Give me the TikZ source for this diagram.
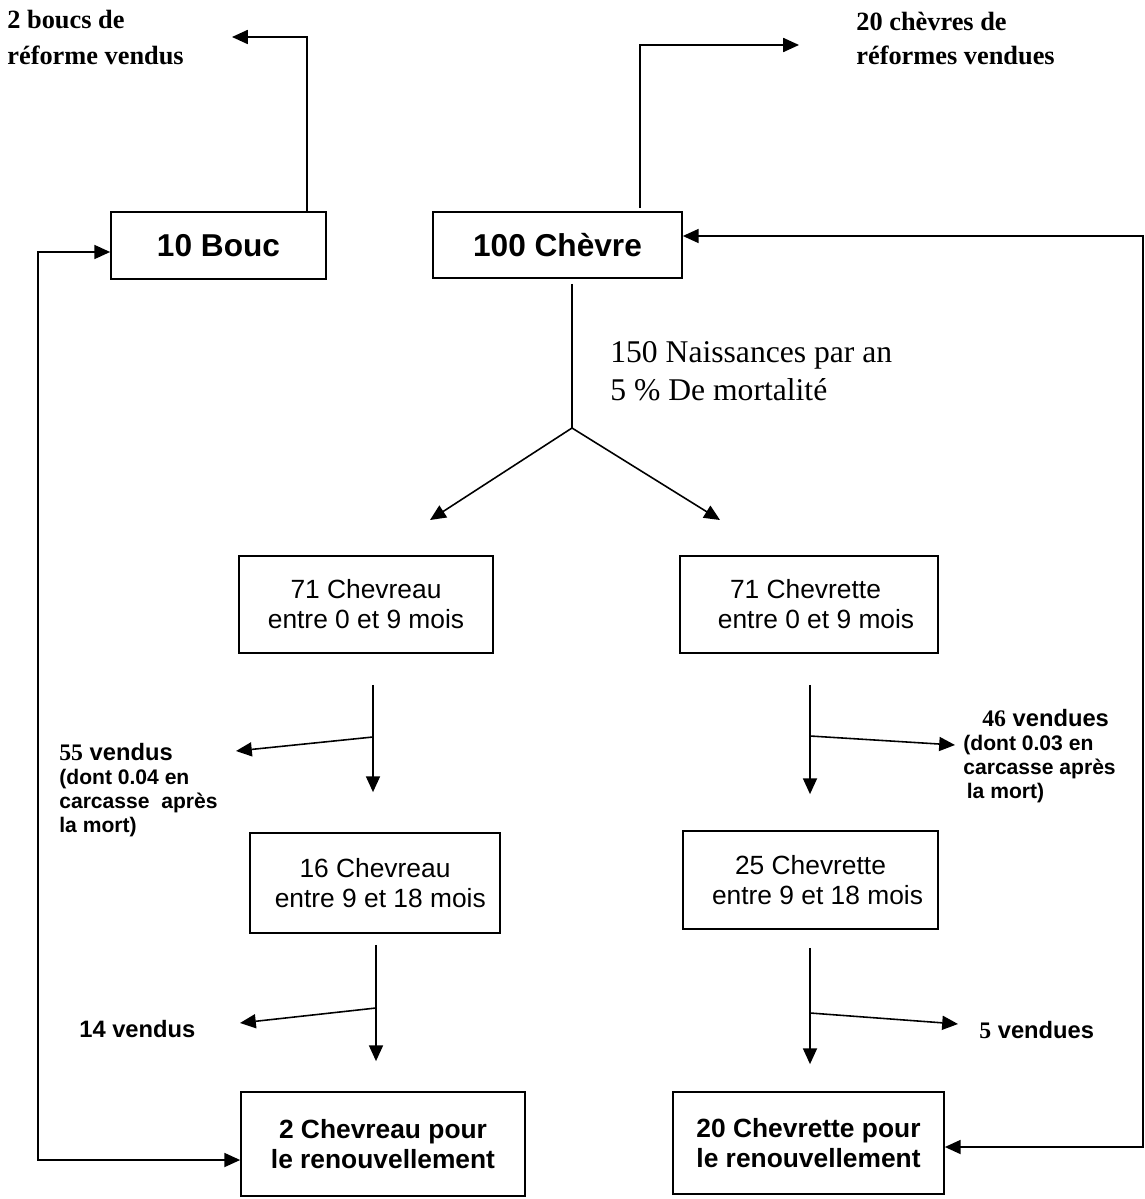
\documentclass[tikz,border=0pt]{standalone}
\usepackage{fontspec}
\setmainfont{Liberation Serif}
\setsansfont{Liberation Sans}
\usetikzlibrary{calc,arrows.meta}

\begin{document}
\begin{tikzpicture}[
    x=0.02cm, y=-0.02cm,
    box/.style={rectangle, draw=black, line width=1pt, inner sep=0pt, align=center, font=\sffamily\fontsize{15}{17}\selectfont},
    herdbox/.style={box, font=\sffamily\bfseries\fontsize{18}{21}\selectfont},
    renewbox/.style={box, font=\sffamily\bfseries\fontsize{15}{17}\selectfont},
    arrow/.style={-{Triangle[length=9pt, width=8pt]}, line width=0.9pt},
    returnarrow/.style={{Triangle[length=9pt, width=8pt]}-{Triangle[length=9pt, width=8pt]}, line width=0.9pt},
    plainline/.style={line width=0.9pt},
    reform/.style={font=\rmfamily\bfseries\fontsize{15}{21}\selectfont, align=left, anchor=base west, inner sep=0pt},
    sale/.style={font=\sffamily\bfseries\fontsize{12}{13.5}\selectfont, align=left, anchor=base west, inner sep=0pt},
    salebig/.style={sale, font=\sffamily\bfseries\fontsize{13.5}{15}\selectfont},
    births/.style={font=\rmfamily\fontsize{18}{21.6}\selectfont, align=left, anchor=base west, inner sep=0pt},
]
\useasboundingbox (0,0) rectangle (1144,1199);

% Herd
\node[herdbox, minimum width=4.3cm, minimum height=1.34cm] (bouc) at (218.5,245.5) {10 Bouc};
\node[herdbox, minimum width=4.98cm, minimum height=1.32cm] (chevre) at (557.5,245) {100 Chèvre};

% Reform sales (base = last line)
\node[reform] (boucsold) at (7,65) {2 boucs de\\réforme vendus};
\node[reform, font=\rmfamily\bfseries\fontsize{15}{19.4}\selectfont] (chevresold) at (856,65) {20 chèvres de\\réformes vendues};
\coordinate (boucup) at (307,37);
\coordinate (boucend) at (232,37);
\draw[arrow] (bouc.north -| boucup) -- (boucup) -- (boucend);
\coordinate (chevreup) at (640,45);
\coordinate (chevreend) at (799,45);
\draw[arrow] ($(chevre.north -| chevreup)+(0,-3)$) -- (chevreup) -- (chevreend);

% Births
\coordinate (split) at (572,428);
\coordinate (maletip) at (430,520);
\coordinate (femaletip) at (720,520);
\node[births] (birthtext) at (610,400) {150 Naissances par an\\5 \% De mortalité};
\draw[plainline] ($(chevre.south -| split)+(0,5)$) -- (split);
\draw[arrow] (split) -- (maletip);
\draw[arrow] (split) -- (femaletip);

% 0 to 9 months
\node[box, minimum width=5.08cm, minimum height=1.94cm] (chevreauA) at (366,604.5) {71 Chevreau\\entre 0 et 9 mois};
\node[box, minimum width=5.16cm, minimum height=1.94cm] (chevretteA) at (809,604.5) {71 Chevrette\hspace*{4pt}\\\hspace*{8pt}entre 0 et 9 mois};

% 9 to 18 months
\node[box, minimum width=5cm, minimum height=2cm] (chevreauB) at (375,883) {16 Chevreau\\\hspace*{6pt}entre 9 et 18 mois};
\node[box, minimum width=5.1cm, minimum height=1.96cm] (chevretteB) at (810.5,880) {25 Chevrette\\\hspace*{8pt}entre 9 et 18 mois};

% Renewal
\node[renewbox, minimum width=5.68cm, minimum height=2.08cm] (renewA) at (383,1144) {2 Chevreau pour\\le renouvellement};
\node[renewbox, minimum width=5.42cm, minimum height=2.04cm] (renewB) at (808.5,1143) {20 Chevrette pour\\le renouvellement};

% Sales (base = last line)
\node[sale] (maleSaleA) at (59,832) {{\fontsize{13.5}{15}\selectfont{\rmfamily 55} vendus}\\(dont 0.04 en\\carcasse\ \ après\\la mort)};
\node[sale] (femaleSaleA) at (963,798) {\hspace*{10.8pt}{\fontsize{13.5}{15}\selectfont{\rmfamily 46} vendues}\\(dont 0.03 en\\carcasse après\\\hspace*{2pt}la mort)};
\node[salebig] (maleSaleB) at (79,1037) {14 vendus};
\node[salebig] (femaleSaleB) at (979,1038) {{\rmfamily 5} vendues};

% Male line
\coordinate (maleSplitA) at (373,737);
\coordinate (maleSaleTipA) at (236,751);
\draw[arrow] ($(chevreauA.south -| maleSplitA)+(0,31)$) -- ($(chevreauB.north -| maleSplitA)+(0,-40)$);
\draw[arrow] (maleSplitA) -- (maleSaleTipA);
\coordinate (maleSplitB) at (376,1008);
\coordinate (maleSaleTipB) at (240,1023);
\draw[arrow] ($(chevreauB.south -| maleSplitB)+(0,11)$) -- ($(renewA.north -| maleSplitB)+(0,-30)$);
\draw[arrow] (maleSplitB) -- (maleSaleTipB);

% Female line
\coordinate (femaleSplitA) at (810,736);
\coordinate (femaleSaleTipA) at (955,745);
\draw[arrow] ($(chevretteA.south -| femaleSplitA)+(0,31)$) -- ($(chevretteB.north -| femaleSplitA)+(0,-36)$);
\draw[arrow] (femaleSplitA) -- (femaleSaleTipA);
\coordinate (femaleSplitB) at (810,1013);
\coordinate (femaleSaleTipB) at (958,1024);
\draw[arrow] ($(chevretteB.south -| femaleSplitB)+(0,18)$) -- ($(renewB.north -| femaleSplitB)+(0,-27)$);
\draw[arrow] (femaleSplitB) -- (femaleSaleTipB);

% Renewal loops
\coordinate (lefttop) at (38,252);
\coordinate (leftbottom) at (38,1160);
\draw[returnarrow] (bouc.west |- lefttop) -- (lefttop) -- (leftbottom) -- (renewA.west |- leftbottom);
\coordinate (righttop) at (1143,236);
\coordinate (rightbottom) at (1143,1147);
\draw[returnarrow] (chevre.east |- righttop) -- (righttop) -- (rightbottom) -- (renewB.east |- rightbottom);

\end{tikzpicture}
\end{document}
